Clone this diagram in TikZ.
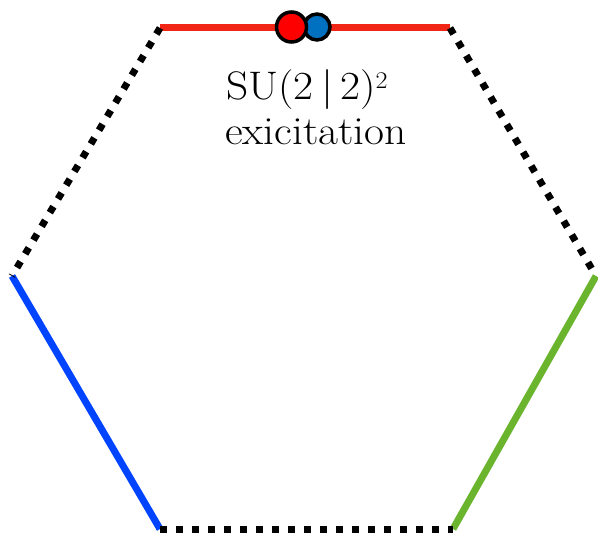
\documentclass[tikz,border=0pt]{standalone}
\usepackage{graphicx}
\definecolor{edgered}{RGB}{242,38,22}
\definecolor{edgeblue}{RGB}{0,68,255}
\definecolor{edgegreen}{RGB}{106,180,46}
\definecolor{dotred}{RGB}{255,0,0}
\definecolor{dotblue}{RGB}{0,112,192}
\newcommand{\widetxt}[1]{\scalebox{1.09}[1]{#1}}
\tikzset{
  solidedge/.style={line width=7bp, line cap=butt},
  dottededge/.style={line width=7bp, line cap=butt, dash pattern=on 7bp off 9bp, black},
  particle/.style={circle, draw=black, line width=3.5bp, inner sep=0pt},
  lbl/.style={anchor=base west, inner sep=0pt, font=\fontsize{40}{45}\selectfont}
}
\begin{document}
\begin{tikzpicture}[x=1bp,y=-1bp]
\useasboundingbox (0,0) rectangle (598,535);
\coordinate (TL) at (160,28);
\coordinate (TR) at (450,28);
\coordinate (R) at (596,276);
\coordinate (BR) at (453,529);
\coordinate (BL) at (160,529);
\coordinate (L) at (12,276);
\draw[solidedge, edgered] (TL) -- (TR);
\draw[solidedge, edgeblue] (L) -- (BL);
\draw[solidedge, edgegreen] (BR) -- (R);
\draw[dottededge] (TL) -- (L);
\draw[dottededge] (TR) -- (R);
\draw[dottededge] (BL) -- (BR);
\node[particle, fill=dotblue, minimum size=26bp] (pb) at (317,27) {};
\node[particle, fill=dotred, minimum size=30bp] (pr) at (291.5,27) {};
\node[lbl] (t1) at (226,100) {\widetxt{SU(2\,|\,2)\raisebox{11.5bp}{\fontsize{24}{24}\selectfont 2}}};
\node[lbl] (t2) at (225,145) {\widetxt{exicitation}};
\end{tikzpicture}
\end{document}
